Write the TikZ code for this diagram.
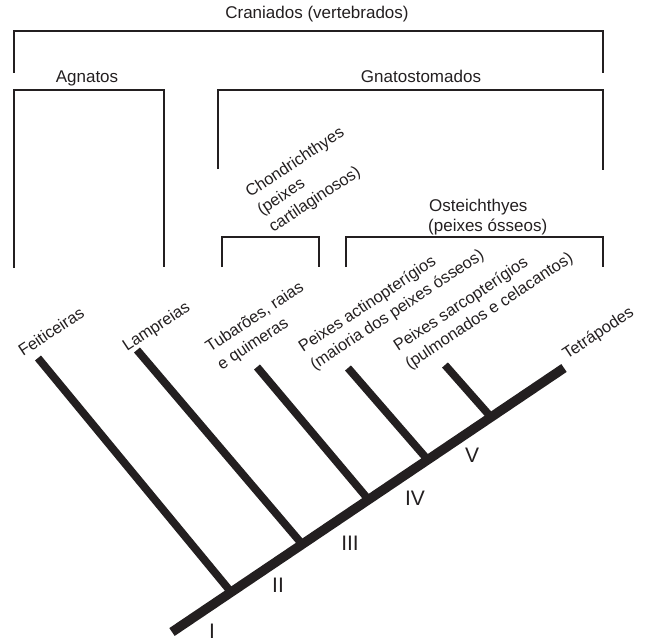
\documentclass[tikz,border=0pt]{standalone}
\usepackage{fontspec}
\setmainfont{Liberation Sans}
\definecolor{ink}{HTML}{231F20}
\begin{document}
\begin{tikzpicture}[x=1pt,y=-1pt,
  br/.style={draw=ink,line width=2.2pt},
  trunk/.style={draw=ink,line width=9.5pt},
  twig/.style={draw=ink,line width=7.8pt},
  hlab/.style={font=\fontsize{17}{20}\selectfont,text=ink,inner sep=0pt},
  rlab/.style={font=\fontsize{16.4}{20}\selectfont,text=ink,inner sep=0pt,rotate=33.5,anchor=base west},
  num/.style={font=\fontsize{21}{24}\selectfont,text=ink,inner sep=0pt}]
\useasboundingbox (0,0) rectangle (651,642);

% ---- brackets ----
\coordinate (cA) at (14,73);  \coordinate (cB) at (14,31);
\coordinate (cC) at (603,31); \coordinate (cD) at (603,73);
\draw[br] (cA) -- (cB) -- (cC) -- (cD);
\node[hlab,anchor=base] (cran) at (317,19) {Craniados (vertebrados)};

\coordinate (aA) at (14,268);  \coordinate (aB) at (14,90);
\coordinate (aC) at (164,90);  \coordinate (aD) at (164,267);
\draw[br] (aA) -- (aB) -- (aC) -- (aD);
\node[hlab,anchor=base] (agn) at (87,82) {Agnatos};

\coordinate (gA) at (218,169);  \coordinate (gB) at (218,90);
\coordinate (gC) at (603,90);   \coordinate (gD) at (603,170);
\draw[br] (gA) -- (gB) -- (gC) -- (gD);
\node[hlab,anchor=base] (gna) at (421,82) {Gnatostomados};

\coordinate (chA) at (222,267);  \coordinate (chB) at (222,237);
\coordinate (chC) at (319,237);  \coordinate (chD) at (319,267);
\draw[br] (chA) -- (chB) -- (chC) -- (chD);
\node[rlab] (ch1) at (250,198) {Chondrichthyes};
\node[rlab] (ch2) at (261.6,215.5) {(peixes};
\node[rlab] (ch3) at (273.2,233) {cartilaginosos)};

\coordinate (oA) at (346,267);  \coordinate (oB) at (346,237);
\coordinate (oC) at (603,237);  \coordinate (oD) at (603,267);
\draw[br] (oA) -- (oB) -- (oC) -- (oD);
\node[hlab,anchor=base west] (os1) at (429,211) {Osteichthyes};
\node[hlab,anchor=base west] (os2) at (428,231) {(peixes ósseos)};

% ---- tree ----
\coordinate (T0) at (172,632);
\coordinate (J1) at (231,592);
\coordinate (J2) at (302,544);
\coordinate (J3) at (368,499);
\coordinate (J4) at (427,459);
\coordinate (J5) at (490,416);
\coordinate (Tip) at (564,368);
\coordinate (F) at (38,358);
\coordinate (L) at (137,350);
\coordinate (Tu) at (257,367);
\coordinate (A) at (348,368);
\coordinate (S) at (445,365);

\draw[twig] (F) -- (J1);
\draw[twig] (L) -- (J2);
\draw[twig] (Tu) -- (J3);
\draw[twig] (A) -- (J4);
\draw[twig] (S) -- (J5);
\draw[trunk] (T0) -- (Tip);

\node[rlab] (fei) at (23,357) {Feiticeiras};
\node[rlab] (lam) at (127,352) {Lampreias};
\node[rlab] (tub1) at (210,353) {Tubarões, raias};
\node[rlab] (tub2) at (221.6,370.5) {e quimeras};
\node[rlab] (act1) at (303,353) {Peixes actinopterígios};
\node[rlab] (act2) at (314.6,370.5) {(maioria dos peixes ósseos)};
\node[rlab] (sar1) at (398,352) {Peixes sarcopterígios};
\node[rlab] (sar2) at (409.6,369.5) {(pulmonados e celacantos)};
\node[rlab] (tet) at (567,360) {Tetrápodes};

\node[num] (n1) at (212,631) {I};
\node[num] (n2) at (278,585) {II};
\node[num] (n3) at (350,543) {III};
\node[num] (n4) at (415,498) {IV};
\node[num] (n5) at (472,455) {V};
\end{tikzpicture}
\end{document}
